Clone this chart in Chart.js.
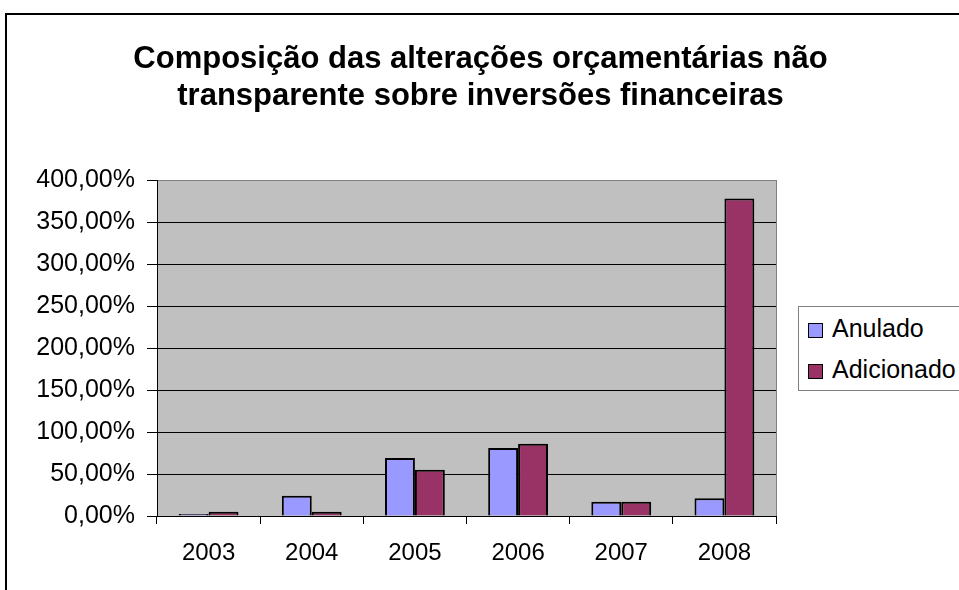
<!DOCTYPE html>
<html>
<head>
<meta charset="utf-8">
<script src="https://cdn.jsdelivr.net/npm/chart.js@4/dist/chart.umd.min.js"></script>
<style>
  html, body { margin: 0; padding: 0; background: #fff; overflow: hidden; }
  body { width: 959px; height: 590px; position: relative; font-family: "Liberation Sans", Arial, sans-serif; }
  #moldura { position: absolute; left: 5px; top: 13px; width: 1000px; height: 700px; border: 2px solid #000; }
  #grafico { position: absolute; left: 0; top: 0; }
  #titulo { position: absolute; left: 0; top: 39px; width: 961px; text-align: center;
            font-weight: bold; font-size: 31px; line-height: 37px; color: #000; }
  #legenda { position: absolute; left: 798px; top: 306px; width: 200px; height: 83px;
             border: 1px solid #808080; background: #fff; }
  #legenda .item { position: absolute; left: 9px; font-size: 25px; line-height: 30px; color: #000; white-space: nowrap; }
  #legenda .cor { display: inline-block; width: 13px; height: 13px; border: 1px solid #000;
                  margin-right: 9px; vertical-align: -1px; }
</style>
</head>
<body>
<div id="moldura"></div>
<canvas id="grafico" width="959" height="590"></canvas>
<div id="titulo">Composição das alterações orçamentárias não<br>transparente sobre inversões financeiras</div>
<div id="legenda"></div>

<script>
// dados (valores em %)
const anos = ["2003", "2004", "2005", "2006", "2007", "2008"];
const anulado = [2.5, 24, 69, 81, 17, 21];
const adicionado = [5, 5, 55, 86, 17, 378];
const ticksY = [0, 50, 100, 150, 200, 250, 300, 350, 400];

const series = [
  { label: "Anulado", data: anulado, backgroundColor: "#9999FF" },
  { label: "Adicionado", data: adicionado, backgroundColor: "#993366" },
];

// fundo cinza da área de plotagem
const fundoPlot = {
  id: "fundoPlot",
  beforeDraw(chart) {
    const { ctx, chartArea: a } = chart;
    ctx.save();
    ctx.fillStyle = "#C0C0C0";
    ctx.fillRect(a.left, a.top, a.right - a.left, a.bottom - a.top);
    ctx.strokeStyle = "#808080";
    ctx.lineWidth = 1;
    ctx.strokeRect(a.left + 0.5, a.top + 0.5, a.right - a.left, a.bottom - a.top);
    ctx.restore();
  },
};

const ctx = document.getElementById("grafico").getContext("2d");

let chart = new Chart(ctx, {
  type: "bar",
  data: {
    labels: anos,
    datasets: series.map((s) => ({
      label: s.label,
      data: s.data,
      backgroundColor: s.backgroundColor,
      borderColor: "#000",
      borderWidth: 2,
      categoryPercentage: 0.58,
      barPercentage: 1,
    })),
  },
  options: {
    responsive: false,
    animation: false,
    layout: { padding: { top: 180, right: 183, left: 0, bottom: 0 } },
    plugins: {
      legend: { display: false },
      tooltip: { enabled: false },
      title: { display: false },
    },
    scales: {
      x: {
        grid: { display: true, drawOnChartArea: false, drawTicks: true, tickLength: 8, tickColor: "#000", offset: true },
        border: { color: "#000", width: 1 },
        ticks: { color: "#000", font: { family: "'Liberation Sans', Arial", size: 24 }, padding: 15 },
        afterFit(scale) { scale.height = 74; },
      },
      y: {
        min: 0,
        max: 400,
        afterBuildTicks(scale) { scale.ticks = ticksY.map((v) => ({ value: v })); },
        grid: {
          color: (c) => (c.tick && c.tick.value === 400 ? "#808080" : "#000"),
          tickColor: "#000",
          tickLength: 10,
          lineWidth: 1,
        },
        border: { color: "#000", width: 1 },
        ticks: {
          color: "#000",
          font: { family: "'Liberation Sans', Arial", size: 25 },
          padding: 12,
          callback: (v) => v.toFixed(2).replace(".", ",") + "%",
        },
        afterFit(scale) { scale.width = 157; },
      },
    },
  },
  plugins: [fundoPlot],
});

// legenda em HTML
const legenda = document.getElementById("legenda");
series.forEach((s, i) => {
  const item = document.createElement("div");
  item.className = "item";
  item.style.top = (6 + i * 41) + "px";
  item.innerHTML = '<span class="cor" style="background:' + s.backgroundColor + '"></span>' + s.label;
  legenda.appendChild(item);
});
</script>
</body>
</html>
